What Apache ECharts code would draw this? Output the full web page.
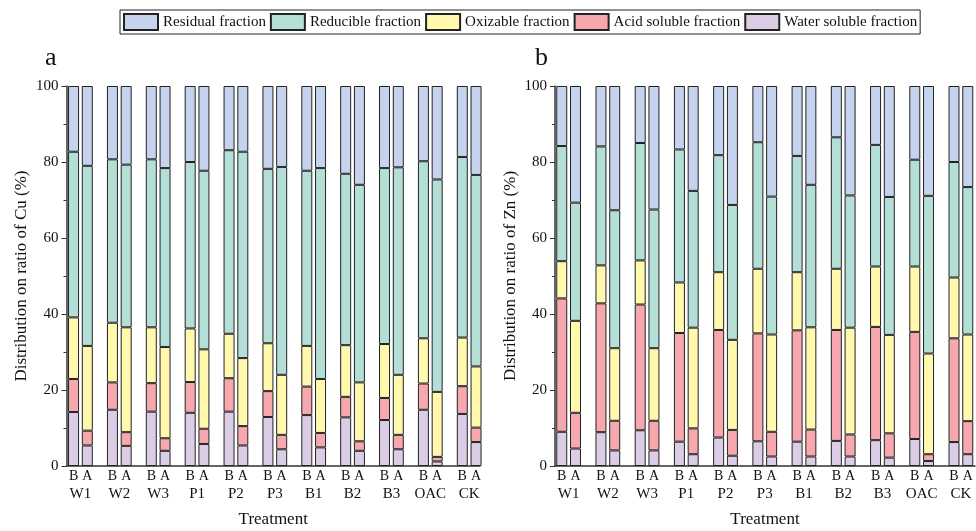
<!DOCTYPE html>
<html>
<head>
<meta charset="utf-8">
<script src="https://cdn.jsdelivr.net/npm/echarts@6/dist/echarts.min.js"></script>
<style>
  html, body { margin: 0; padding: 0; background: #fff; }
  #chart { width: 976px; height: 531px; }
</style>
</head>
<body>
<div id="chart"></div>
<script>
// treatments on the x axis
const treatments = ['W1', 'W2', 'W3', 'P1', 'P2', 'P3', 'B1', 'B2', 'B3', 'OAC', 'CK']
const yTicks = [0, 20, 40, 60, 80, 100]

// a: Cu fractions (%), B = before, A = after
const cuWaterB = [14.2, 14.8, 14.3, 14.0, 14.3, 12.9, 13.4, 12.8, 12.1, 14.8, 13.7]
const cuAcidB = [8.7, 7.2, 7.5, 8.1, 8.8, 6.8, 7.5, 5.4, 5.8, 6.9, 7.3]
const cuOxiB = [16.2, 15.7, 14.7, 14.1, 11.7, 12.6, 10.7, 13.6, 14.2, 11.9, 12.8]
const cuRedB = [43.6, 43.0, 44.2, 43.8, 48.3, 45.9, 46.1, 45.1, 46.3, 46.6, 47.5]
const cuResB = [17.3, 19.3, 19.3, 20.0, 16.9, 21.8, 22.3, 23.1, 21.6, 19.8, 18.7]

const cuWaterA = [5.4, 5.3, 4.0, 5.8, 5.4, 4.4, 4.9, 4.0, 4.4, 1.2, 6.3]
const cuAcidA = [3.9, 3.6, 3.3, 4.0, 5.1, 3.8, 3.8, 2.5, 3.8, 1.2, 3.8]
const cuOxiA = [22.3, 27.6, 24.0, 20.9, 17.9, 15.8, 14.2, 15.5, 15.8, 17.1, 16.1]
const cuRedA = [47.4, 42.8, 47.1, 47.0, 54.3, 54.7, 55.5, 52.0, 54.6, 55.9, 50.4]
const cuResA = [21.0, 20.7, 21.6, 22.3, 17.3, 21.3, 21.6, 26.0, 21.4, 24.6, 23.4]

// b: Zn fractions (%)
const znWaterB = [9.0, 8.9, 9.4, 6.4, 7.5, 6.5, 6.4, 6.6, 6.8, 7.1, 6.3]
const znAcidB = [35.1, 33.9, 33.1, 28.6, 28.3, 28.4, 29.3, 29.2, 29.8, 28.2, 27.3]
const znOxiB = [9.8, 10.0, 11.6, 13.3, 15.2, 17.0, 15.3, 16.1, 15.9, 17.2, 16.0]
const znRedB = [30.3, 31.3, 30.9, 35.0, 30.8, 33.3, 30.6, 34.6, 32.0, 28.1, 30.4]
const znResB = [15.8, 15.9, 15.0, 16.7, 18.2, 14.8, 18.4, 13.5, 15.5, 19.4, 20.0]

const znWaterA = [4.6, 4.1, 4.1, 3.1, 2.7, 2.5, 2.5, 2.5, 2.2, 1.3, 3.1]
const znAcidA = [9.4, 7.8, 7.8, 6.8, 6.8, 6.5, 7.1, 5.8, 6.4, 1.8, 8.7]
const znOxiA = [24.2, 19.1, 19.1, 26.5, 23.7, 25.6, 26.9, 28.1, 25.9, 26.5, 22.8]
const znRedA = [31.1, 36.3, 36.5, 36.0, 35.5, 36.3, 37.5, 34.8, 36.3, 41.5, 38.8]
const znResA = [30.7, 32.7, 32.5, 27.6, 31.3, 29.1, 26.0, 28.8, 29.2, 28.9, 26.6]

const names = ['Water soluble fraction', 'Acid soluble fraction', 'Oxizable fraction', 'Reducible fraction', 'Residual fraction']
const colors = ['#dccde6', '#f7a8ae', '#fff8ad', '#b4dfd6', '#c5d3ef']
const font = 'Liberation Serif'

// 5 stacked series for one bar (B or A) of one panel
function stackSeries(axisIdx, stackName, label, arrays) {
  return arrays.map((arr, i) => ({
    name: names[i],
    type: 'bar',
    xAxisIndex: axisIdx,
    yAxisIndex: axisIdx,
    stack: stackName,
    data: arr,
    barWidth: 11,
    barGap: '25%',
    itemStyle: { color: colors[i], borderColor: '#222', borderWidth: 1 },
    label: i === 0 ? {
      show: true,
      position: 'bottom',
      distance: 3,
      formatter: label,
      fontFamily: font,
      fontSize: 14,
      color: '#111',
    } : { show: false },
  }))
}

// grids 0/2 hold the bars, grids 1/3 draw the visible axes
const barAxisX = (gi) => ({
  type: 'category',
  gridIndex: gi,
  data: treatments,
  axisLine: { show: false },
  axisTick: { show: false },
  axisLabel: { interval: 0, margin: 21, fontFamily: font, fontSize: 15, color: '#111' },
})
const barAxisY = (gi) => ({
  type: 'value', gridIndex: gi, min: 0, max: 100, show: false,
})
const frameAxisX = (gi) => ({
  type: 'value',
  gridIndex: gi,
  min: 0,
  max: 1,
  name: 'Treatment',
  nameLocation: 'middle',
  nameGap: 45,
  nameTextStyle: { fontFamily: font, fontSize: 17, color: '#111' },
  axisLine: { lineStyle: { color: '#333', width: 1.5 } },
  axisTick: { show: false },
  axisLabel: { show: false },
  splitLine: { show: false },
})
const frameAxisY = (gi, metal) => ({
  type: 'value',
  gridIndex: gi,
  min: yTicks[0],
  max: yTicks[yTicks.length - 1],
  interval: 20,
  name: 'Distribution on ratio of ' + metal + ' (%)',
  nameLocation: 'middle',
  nameGap: 36,
  nameTextStyle: { fontFamily: font, fontSize: 17, color: '#111' },
  axisLine: { show: true, lineStyle: { color: '#333', width: 1.5 } },
  axisTick: { show: true, length: 5, lineStyle: { color: '#333' } },
  minorTick: { show: true, splitNumber: 2, length: 3, lineStyle: { color: '#333' } },
  axisLabel: { fontFamily: font, fontSize: 15, color: '#111', margin: 8 },
  splitLine: { show: false },
})

const option = {
  animation: false,
  backgroundColor: '#fff',
  title: [
    { text: 'a', left: 40, top: 40, textStyle: { fontFamily: font, fontSize: 26, fontWeight: 'normal', color: '#111' } },
    { text: 'b', left: 530, top: 40, textStyle: { fontFamily: font, fontSize: 26, fontWeight: 'normal', color: '#111' } },
  ],
  legend: {
    data: names.slice().reverse(),
    left: 120,
    top: 10,
    padding: [3, 3, 3, 3],
    itemGap: 4,
    itemWidth: 34,
    itemHeight: 16,
    icon: 'rect',
    borderColor: '#222',
    borderWidth: 1,
    textStyle: { fontFamily: font, fontSize: 15, color: '#111' },
  },
  grid: [
    { left: 61, width: 427.6, top: 86, bottom: 65, outerBoundsMode: 'none' },
    { left: 66.5, width: 413.5, top: 86, bottom: 65, outerBoundsMode: 'none' },
    { left: 549, width: 431.5, top: 86, bottom: 65, outerBoundsMode: 'none' },
    { left: 555, width: 420, top: 86, bottom: 65, outerBoundsMode: 'none' },
  ],
  xAxis: [barAxisX(0), frameAxisX(1), barAxisX(2), frameAxisX(3)],
  yAxis: [barAxisY(0), frameAxisY(1, 'Cu'), barAxisY(2), frameAxisY(3, 'Zn')],
  series: [
    ...stackSeries(0, 'cuB', 'B', [cuWaterB, cuAcidB, cuOxiB, cuRedB, cuResB]),
    ...stackSeries(0, 'cuA', 'A', [cuWaterA, cuAcidA, cuOxiA, cuRedA, cuResA]),
    ...stackSeries(2, 'znB', 'B', [znWaterB, znAcidB, znOxiB, znRedB, znResB]),
    ...stackSeries(2, 'znA', 'A', [znWaterA, znAcidA, znOxiA, znRedA, znResA]),
  ],
}

const chart = echarts.init(document.getElementById('chart'))
chart.setOption(option)
window.addEventListener('resize', function () {
  chart && chart.resize()
})
</script>
</body>
</html>
